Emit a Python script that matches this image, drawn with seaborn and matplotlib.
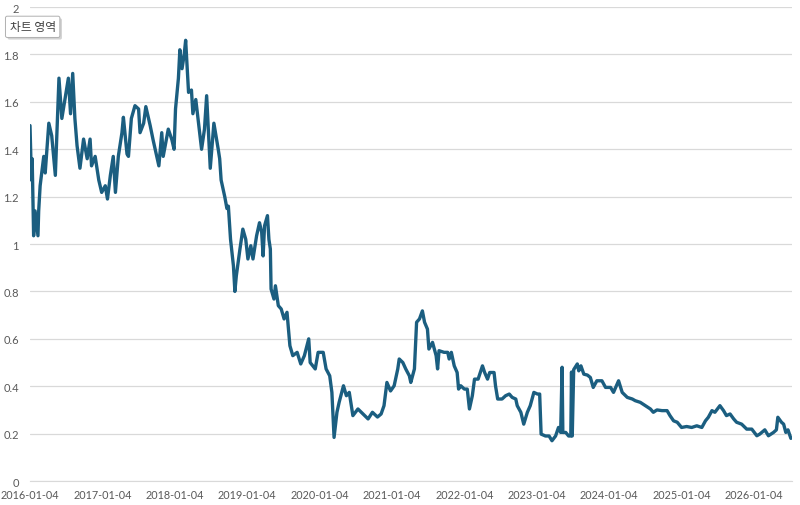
import numpy as np
import pandas as pd
import seaborn as sns
import matplotlib.pyplot as plt
import matplotlib.ticker as mticker
import matplotlib.patheffects as pe

# === Dati (anno decimale, 2016.00 = 2016-01-04) ===
years = [
    2016.00, 2016.02, 2016.03, 2016.05, 2016.07, 2016.11, 2016.12, 2016.14, 2016.19, 2016.21,
    2016.26, 2016.30, 2016.35, 2016.40, 2016.44, 2016.49, 2016.53, 2016.56, 2016.59, 2016.62,
    2016.65, 2016.69, 2016.74, 2016.79, 2016.83, 2016.85, 2016.90, 2016.95, 2016.99, 2017.04,
    2017.07, 2017.11, 2017.15, 2017.18, 2017.22, 2017.27, 2017.29, 2017.34, 2017.36, 2017.40,
    2017.45, 2017.50, 2017.52, 2017.57, 2017.60, 2017.66, 2017.70, 2017.75, 2017.78, 2017.82,
    2017.84, 2017.91, 2017.96, 2017.99, 2018.01, 2018.05, 2018.07, 2018.10, 2018.13, 2018.15,
    2018.19, 2018.23, 2018.25, 2018.29, 2018.32, 2018.37, 2018.41, 2018.44, 2018.49, 2018.54,
    2018.60, 2018.62, 2018.64, 2018.69, 2018.72, 2018.74, 2018.77, 2018.81, 2018.83, 2018.85,
    2018.90, 2018.94, 2018.98, 2019.01, 2019.05, 2019.08, 2019.13, 2019.17, 2019.20, 2019.22,
    2019.24, 2019.28, 2019.30, 2019.32, 2019.33, 2019.37, 2019.39, 2019.43, 2019.47, 2019.51,
    2019.55, 2019.59, 2019.63, 2019.69, 2019.74, 2019.79, 2019.85, 2019.87, 2019.94, 2019.98,
    2020.05, 2020.09, 2020.14, 2020.17, 2020.20, 2020.24, 2020.27, 2020.33, 2020.37, 2020.41,
    2020.46, 2020.53, 2020.60, 2020.67, 2020.73, 2020.80, 2020.85, 2020.89, 2020.93, 2020.98,
    2021.03, 2021.08, 2021.10, 2021.15, 2021.19, 2021.24, 2021.26, 2021.31, 2021.34, 2021.38,
    2021.42, 2021.45, 2021.49, 2021.51, 2021.56, 2021.61, 2021.63, 2021.65, 2021.72, 2021.77,
    2021.79, 2021.82, 2021.86, 2021.90, 2021.92, 2021.95, 2022.00, 2022.04, 2022.07, 2022.11,
    2022.14, 2022.19, 2022.22, 2022.25, 2022.28, 2022.32, 2022.35, 2022.41, 2022.43, 2022.46,
    2022.52, 2022.57, 2022.62, 2022.66, 2022.71, 2022.73, 2022.78, 2022.82, 2022.87, 2022.91,
    2022.96, 2023.01, 2023.04, 2023.06, 2023.12, 2023.17, 2023.21, 2023.26, 2023.30, 2023.33,
    2023.35, 2023.36, 2023.40, 2023.44, 2023.47, 2023.48, 2023.49, 2023.51, 2023.56, 2023.58,
    2023.61, 2023.65, 2023.70, 2023.74, 2023.78, 2023.83, 2023.90, 2023.95, 2024.02, 2024.06,
    2024.13, 2024.18, 2024.25, 2024.32, 2024.36, 2024.43, 2024.50, 2024.57, 2024.61, 2024.66,
    2024.73, 2024.80, 2024.84, 2024.89, 2024.94, 2025.00, 2025.07, 2025.14, 2025.21, 2025.28,
    2025.33, 2025.37, 2025.42, 2025.46, 2025.53, 2025.58, 2025.62, 2025.67, 2025.72, 2025.76,
    2025.83, 2025.90, 2025.97, 2026.04, 2026.08, 2026.15, 2026.20, 2026.27, 2026.31, 2026.33,
    2026.38, 2026.41, 2026.44, 2026.47, 2026.51,
]
values = [
    1.50, 1.27, 1.36, 1.035, 1.14, 1.035, 1.14, 1.246, 1.37, 1.30,
    1.51, 1.457, 1.29, 1.70, 1.53, 1.626, 1.70, 1.55, 1.72, 1.53,
    1.415, 1.32, 1.443, 1.36, 1.443, 1.33, 1.37, 1.27, 1.218, 1.246,
    1.19, 1.29, 1.37, 1.218, 1.37, 1.47, 1.535, 1.38, 1.37, 1.53,
    1.584, 1.57, 1.47, 1.51, 1.58, 1.50, 1.44, 1.37, 1.33, 1.47,
    1.37, 1.485, 1.44, 1.40, 1.57, 1.70, 1.82, 1.74, 1.80, 1.86,
    1.64, 1.65, 1.55, 1.61, 1.53, 1.40, 1.485, 1.626, 1.32, 1.51,
    1.40, 1.36, 1.27, 1.20, 1.15, 1.16, 1.02, 0.908, 0.80, 0.866,
    0.979, 1.063, 1.02, 0.937, 0.993, 0.937, 1.035, 1.09, 1.05, 0.95,
    1.077, 1.12, 1.02, 0.979, 0.81, 0.768, 0.824, 0.74, 0.726, 0.684,
    0.712, 0.571, 0.529, 0.543, 0.494, 0.529, 0.60, 0.50, 0.473, 0.543,
    0.543, 0.473, 0.444, 0.374, 0.184, 0.29, 0.332, 0.402, 0.36, 0.374,
    0.276, 0.304, 0.283, 0.262, 0.29, 0.27, 0.283, 0.318, 0.416, 0.38,
    0.402, 0.473, 0.515, 0.50, 0.473, 0.444, 0.416, 0.473, 0.67, 0.684,
    0.718, 0.67, 0.641, 0.557, 0.585, 0.529, 0.473, 0.55, 0.543, 0.543,
    0.515, 0.543, 0.486, 0.458, 0.388, 0.402, 0.388, 0.388, 0.304, 0.36,
    0.43, 0.43, 0.458, 0.486, 0.458, 0.43, 0.458, 0.458, 0.402, 0.346,
    0.346, 0.36, 0.367, 0.353, 0.346, 0.318, 0.29, 0.24, 0.29, 0.318,
    0.374, 0.367, 0.367, 0.198, 0.19, 0.19, 0.17, 0.19, 0.226, 0.205,
    0.48, 0.205, 0.205, 0.19, 0.19, 0.46, 0.19, 0.47, 0.494, 0.465,
    0.486, 0.451, 0.447, 0.437, 0.395, 0.423, 0.423, 0.395, 0.395, 0.374,
    0.423, 0.374, 0.353, 0.346, 0.339, 0.332, 0.318, 0.304, 0.29, 0.30,
    0.297, 0.297, 0.276, 0.254, 0.248, 0.226, 0.23, 0.226, 0.233, 0.226,
    0.254, 0.269, 0.297, 0.29, 0.318, 0.297, 0.276, 0.283, 0.262, 0.248,
    0.24, 0.219, 0.219, 0.191, 0.198, 0.216, 0.191, 0.205, 0.216, 0.269,
    0.248, 0.24, 0.205, 0.216, 0.18,
]
tick_labels = ['2016-01-04', '2017-01-04', '2018-01-04', '2019-01-04', '2020-01-04', '2021-01-04',
               '2022-01-04', '2023-01-04', '2024-01-04', '2025-01-04', '2026-01-04']

# === Conversione anni -> date ===
start = pd.Timestamp('2016-01-04')
df = pd.DataFrame({'year': years, 'value': values})
df['date'] = start + pd.to_timedelta((df['year'] - 2016.0) * 365.25, unit='D')

sns.set_style('white')
plt.rcParams['font.family'] = ['Lato', 'DejaVu Sans']

fig = plt.figure(figsize=(8, 5.06), dpi=100)
ax = fig.add_axes([0.0375, 0.0474, 0.952, 0.9366])

sns.lineplot(data=df, x='date', y='value', color='#1b5e80', linewidth=2.4, ax=ax)

ax.set_ylim(0, 2)
ax.set_xlim(start, start + pd.Timedelta(days=10.52 * 365.25))
ax.yaxis.set_major_locator(mticker.MultipleLocator(0.2))
ax.yaxis.set_major_formatter(mticker.FuncFormatter(lambda v, p: f'{v:g}'))
ax.set_xticks(pd.to_datetime(tick_labels))
ax.set_xticklabels(tick_labels)
ax.grid(axis='y', color='#d9d9d9', linewidth=0.9)
ax.set_axisbelow(True)
ax.set_xlabel('')
ax.set_ylabel('')

for s in ['top', 'right', 'left']:
    ax.spines[s].set_visible(False)
ax.spines['bottom'].set_color('#d9d9d9')
ax.tick_params(axis='x', colors='#595959', labelsize=7.8, length=3, color='#d9d9d9', pad=3)
ax.tick_params(axis='y', colors='#595959', labelsize=8, length=0, pad=8)

# etichetta "차트 영역" (tooltip)
fig.text(0.012, 0.945, '차트 영역', fontsize=8.5, color='#404040',
         family=['Noto Sans CJK KR', 'DejaVu Sans'], va='center', ha='left',
         bbox=dict(boxstyle='round,pad=0.35,rounding_size=0.15', facecolor='white',
                   edgecolor='#b0b0b0', linewidth=0.7,
                   path_effects=[pe.withSimplePatchShadow(offset=(1.5, -1.5), alpha=0.25)]))

fig.savefig('out.png', dpi=100)
